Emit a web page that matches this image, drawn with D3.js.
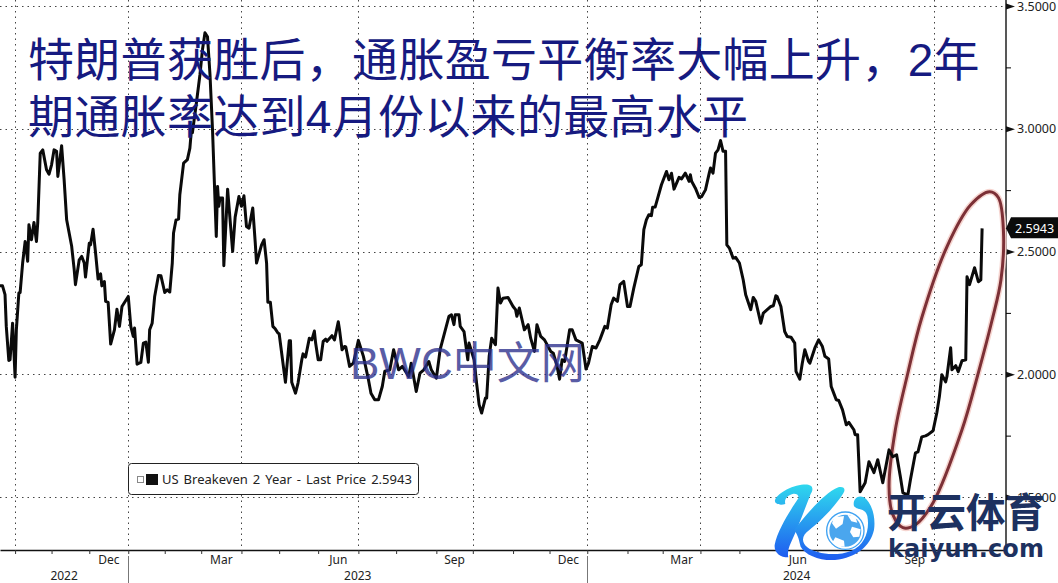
<!DOCTYPE html>
<html>
<head>
<meta charset="utf-8">
<script src="https://cdn.jsdelivr.net/npm/d3@7"></script>
<style>
html, body { margin: 0; padding: 0; background: #fff; overflow: hidden; }
text { font-family: "Noto Sans", sans-serif; fill: #222; }
</style>
</head>
<body>
<svg id="chart" width="1058" height="583"></svg>
<script>
'use strict';

// position along the time axis (axis runs 0..800)
var axisEnd = 800
var sessions = [
    0, 2, 4, 5, 7, 8, 10, 12, 13, 15, 16, 18, 20, 21, 22, 23, 25, 27, 29, 30,
    32, 34, 37, 39, 41, 43, 45, 46, 49, 51, 53, 57, 59, 60, 63, 65, 67, 68, 71, 72,
    74, 76, 78, 80, 81, 83, 84, 86, 88, 91, 93, 95, 97, 102, 104, 106, 107, 109, 112, 114,
    116, 118, 119, 121, 123, 126, 128, 131, 133, 135, 137, 138, 140, 142, 143, 146, 149, 151, 152, 153,
    156, 159, 161, 163, 165, 167, 169, 172, 173, 174, 175, 177, 178, 181, 185, 187, 190, 192, 194, 196,
    198, 201, 203, 204, 208, 210, 212, 213, 215, 217, 219, 221, 222, 227, 230, 231, 232, 235, 237, 240,
    241, 243, 246, 248, 250, 251, 253, 255, 257, 259, 260, 264, 266, 269, 270, 272, 274, 275, 278, 281,
    285, 289, 293, 295, 298, 301, 304, 306, 310, 313, 317, 320, 325, 327, 331, 334, 337, 341, 343, 347,
    350, 357, 359, 361, 362, 365, 366, 369, 372, 373, 377, 379, 381, 383, 386, 387, 389, 391, 394, 396,
    398, 400, 404, 408, 410, 411, 413, 417, 420, 422, 425, 427, 430, 433, 438, 440, 443, 445, 447, 449,
    453, 455, 458, 463, 466, 468, 471, 474, 477, 481, 483, 486, 488, 491, 493, 496, 499, 501, 504, 508,
    510, 512, 514, 516, 518, 519, 521, 526, 530, 532, 534, 536, 540, 542, 545, 548, 549, 550, 553, 556,
    558, 561, 564, 565, 567, 569, 571, 573, 575, 577, 578, 580, 583, 585, 588, 591, 593, 597, 599, 601,
    605, 607, 613, 615, 617, 618, 621, 624, 626, 629, 632, 633, 636, 638, 640, 643, 644, 648, 651, 654,
    656, 659, 661, 663, 665, 667, 670, 673, 675, 679, 680, 682, 684, 688, 691, 695, 698, 702, 707, 710,
    713, 716, 718, 722, 724, 728, 730, 733, 736, 738, 742, 745, 747, 749, 752, 753, 756, 757, 760, 762,
    765, 768, 769, 771, 775, 778, 780, 781
]
var values = [
    2.36, 2.36, 2.324, 2.195, 2.056, 2.059, 2.208, 1.988, 2.181, 2.331, 2.333, 2.453, 2.541, 2.507, 2.46, 2.609, 2.548, 2.618, 2.541, 2.616,
    2.901, 2.914, 2.833, 2.815, 2.853, 2.914, 2.908, 2.806, 2.931, 2.792, 2.629, 2.521, 2.426, 2.365, 2.466, 2.48, 2.453, 2.396, 2.534, 2.527,
    2.591, 2.494, 2.388, 2.409, 2.36, 2.378, 2.297, 2.293, 2.123, 2.181, 2.265, 2.195, 2.276, 2.317, 2.195, 2.154, 2.188, 2.041, 2.048, 2.127,
    2.131, 2.049, 2.181, 2.208, 2.317, 2.402, 2.401, 2.333, 2.344, 2.335, 2.453, 2.575, 2.629, 2.632, 2.731, 2.86, 2.874, 2.921, 2.982, 2.984,
    3.098, 3.22, 3.322, 3.391, 3.375, 3.22, 2.996, 2.561, 2.765, 2.684, 2.718, 2.718, 2.442, 2.754, 2.5, 2.64, 2.724, 2.684, 2.727, 2.602,
    2.595, 2.677, 2.534, 2.453, 2.527, 2.548, 2.453, 2.293, 2.293, 2.195, 2.184, 2.168, 2.165, 1.967, 2.136, 2.136, 1.967, 1.923, 1.964, 2.059,
    2.083, 2.07, 2.147, 2.14, 2.176, 2.127, 2.059, 2.059, 2.134, 2.143, 2.134, 2.157, 2.14, 2.214, 2.181, 2.1, 2.113, 2.111, 2.032, 2.045,
    2.138, 2.073, 1.978, 1.923, 1.896, 1.896, 1.95, 2.012, 2.018, 2.1, 2.018, 2.032, 1.991, 2.045, 1.93, 2.005, 2.018, 2.052, 2.018, 1.984,
    2.1, 2.236, 2.242, 2.202, 2.242, 2.242, 2.195, 2.174, 2.059, 2.127, 2.059, 1.964, 1.876, 1.842, 1.903, 1.903, 2.073, 2.147, 2.12, 2.351,
    2.29, 2.31, 2.313, 2.276, 2.263, 2.236, 2.27, 2.181, 2.202, 2.147, 2.093, 2.202, 2.154, 2.14, 2.093, 2.086, 2.032, 1.98, 2.059, 2.052,
    2.181, 2.181, 2.14, 2.127, 2.021, 2.045, 2.113, 2.107, 2.14, 2.195, 2.188, 2.283, 2.31, 2.297, 2.365, 2.378, 2.276, 2.276, 2.351, 2.439,
    2.446, 2.589, 2.629, 2.65, 2.646, 2.68, 2.681, 2.772, 2.826, 2.792, 2.819, 2.754, 2.802, 2.796, 2.819, 2.786, 2.813, 2.786, 2.758, 2.72,
    2.724, 2.751, 2.819, 2.84, 2.819, 2.901, 2.914, 2.952, 2.908, 2.908, 2.527, 2.514, 2.473, 2.476, 2.453, 2.385, 2.324, 2.263, 2.313, 2.297,
    2.208, 2.249, 2.276, 2.279, 2.32, 2.317, 2.276, 2.174, 2.154, 2.151, 2.127, 2.012, 1.98, 2.045, 2.1, 2.052, 2.045, 2.107, 2.14, 2.113,
    2.073, 2.062, 1.95, 1.923, 1.896, 1.893, 1.855, 1.794, 1.804, 1.774, 1.754, 1.754, 1.521, 1.558, 1.644, 1.599, 1.652, 1.558, 1.692, 1.664,
    1.672, 1.582, 1.517, 1.509, 1.57, 1.68, 1.684, 1.745, 1.749, 1.754, 1.77, 1.843, 1.908, 1.998, 1.969, 1.99, 2.108, 2.018, 2.035, 2.01,
    2.055, 2.059, 2.397, 2.365, 2.434, 2.377, 2.385, 2.5943
]

// hand drawn ring around the last stretch of the line
var ringSessions = [787, 794, 798, 796, 789, 778, 765, 742, 728, 718, 710, 707, 712, 722, 733, 753, 772]
var ringValues = [2.743, 2.719, 2.58, 2.385, 2.222, 2.006, 1.774, 1.477, 1.387, 1.375, 1.428, 1.542, 1.774, 2.006, 2.23, 2.519, 2.69]

var yMajorTicks = [1.5, 2.0, 2.5, 3.0, 3.5]
var yMinorTicks = [1.75, 2.25, 2.75, 3.25]
// month starts from Oct 2022 to Nov 2024, the axis is not calendar even
var monthTicks = [12, 41, 71, 102, 131, 160, 192, 222, 253, 285, 315, 347, 376, 408, 437, 467, 499, 527, 557, 588, 619, 650, 681, 712, 743, 774]
var monthNames = ['Dec', 'Mar', 'Jun', 'Sep', 'Dec', 'Mar', 'Jun', 'Sep']
var yearBreaks = [102, 467]
var yearLabels = ['2022', '2023', '2024']
var lastPrice = 2.5943
var legendText = 'US Breakeven 2 Year - Last Price 2.5943'
var titleLines = ['特朗普获胜后，通胀盈亏平衡率大幅上升，2年', '期通胀率达到4月份以来的最高水平']

var svg = d3.select('#chart')
var axisX = 1006
var axisY = 550

var x = d3.scaleLinear()
    .domain([0, axisEnd])
    .range([0, axisX])
var y = d3.scaleLinear()
    .domain([3.5, 1.5])
    .range([6, 497])

function drawGrid() {
    var grid = svg.append('g')
        .attr('stroke', '#444')
        .attr('stroke-width', 1)
        .attr('stroke-dasharray', '1.5,4')

    grid.selectAll('.h')
        .data(yMajorTicks)
        .enter().append('line')
        .attr('x1', 0)
        .attr('x2', axisX)
        .attr('y1', function(d) { return Math.round(y(d)) + 0.5 })
        .attr('y2', function(d) { return Math.round(y(d)) + 0.5 })

    // every third month
    grid.selectAll('.v')
        .data(monthTicks.filter(function(d, i) { return i % 3 === 0 }))
        .enter().append('line')
        .attr('y1', 0)
        .attr('y2', axisY)
        .attr('x1', function(d) { return Math.round(x(d)) + 0.5 })
        .attr('x2', function(d) { return Math.round(x(d)) + 0.5 })
}

function drawAxes() {
    var bottom = svg.append('g')
        .attr('transform', 'translate(0,' + axisY + ')')
        .call(d3.axisBottom(x)
            .tickValues(monthTicks)
            .tickSize(4)
            .tickSizeOuter(0)
            .tickFormat(''))
    bottom.select('.domain').attr('stroke', '#111').attr('stroke-width', 1.4)
    bottom.selectAll('.tick line').attr('stroke', '#333')

    // the label sits in the middle of its month
    svg.append('g').selectAll('text')
        .data(monthNames)
        .enter().append('text')
        .attr('x', function(d, i) { return x((monthTicks[2 + i * 3] + monthTicks[3 + i * 3]) / 2) })
        .attr('y', 564)
        .attr('text-anchor', 'middle')
        .attr('font-size', 12)
        .text(function(d) { return d })

    svg.append('g').selectAll('line')
        .data(yearBreaks)
        .enter().append('line')
        .attr('x1', function(d) { return Math.round(x(d)) + 0.5 })
        .attr('x2', function(d) { return Math.round(x(d)) + 0.5 })
        .attr('y1', axisY + 6)
        .attr('y2', 583)
        .attr('stroke', '#777')

    var edges = [0].concat(yearBreaks.map(x), [axisX])
    svg.append('g').selectAll('text')
        .data(yearLabels)
        .enter().append('text')
        .attr('x', function(d, i) { return (edges[i] + edges[i + 1]) / 2 })
        .attr('y', 580)
        .attr('text-anchor', 'middle')
        .attr('font-size', 12)
        .text(function(d) { return d })

    svg.append('line')
        .attr('x1', axisX)
        .attr('x2', axisX)
        .attr('y1', 0)
        .attr('y2', axisY)
        .attr('stroke', '#111')
        .attr('stroke-width', 1.4)

    var right = svg.append('g')
        .attr('transform', 'translate(' + axisX + ',0)')
        .call(d3.axisRight(y)
            .tickValues(yMajorTicks)
            .tickSize(0)
            .tickPadding(11)
            .tickFormat(d3.format('.4f')))
    right.select('.domain').remove()
    right.selectAll('.tick text')
        .attr('font-size', 12.5)
        .attr('font-family', '"Noto Sans", sans-serif')
        .attr('fill', '#222')
    right.selectAll('.tick').append('path')
        .attr('d', 'M0,-3L9,0L0,3Z')
        .attr('fill', '#111')

    svg.append('g')
        .attr('transform', 'translate(' + axisX + ',0)')
        .call(d3.axisRight(y).tickValues(yMinorTicks).tickSize(5).tickFormat(''))
        .call(function(g) { g.select('.domain').remove() })
}

function drawSeries() {
    var points = sessions.map(function(d, i) { return { pos: d, value: values[i] } })
    var line = d3.line()
        .x(function(d) { return x(d.pos) })
        .y(function(d) { return y(d.value) })

    svg.append('path')
        .datum(points)
        .attr('fill', 'none')
        .attr('stroke', '#0a0a0a')
        .attr('stroke-width', 3)
        .attr('stroke-linejoin', 'round')
        .attr('d', line)
}

function drawRing() {
    var ring = ringSessions.map(function(d, i) { return [x(d), y(ringValues[i])] })
    var path = d3.line().curve(d3.curveCatmullRomClosed.alpha(0.5))(ring)
    svg.append('path')
        .attr('d', path)
        .attr('fill', 'none')
        .attr('stroke', '#f6d5d0')
        .attr('stroke-width', 6)
    svg.append('path')
        .attr('d', path)
        .attr('fill', 'none')
        .attr('stroke', '#7c3036')
        .attr('stroke-width', 3)
}

function drawPriceTag() {
    var py = y(lastPrice)
    var tag = svg.append('g').attr('transform', 'translate(' + axisX + ',' + py + ')')
    tag.append('path')
        .attr('d', 'M0,0L5,-11H52V10H5Z')
        .attr('fill', '#0b0b0b')
    tag.append('text')
        .attr('x', 9)
        .attr('y', 4.5)
        .attr('font-size', 12.5)
        .style('fill', '#fff')
        .text(d3.format('.4f')(lastPrice))
}

function drawLegend() {
    var g = svg.append('g')
    g.append('rect')
        .attr('x', 128.5)
        .attr('y', 463.5)
        .attr('width', 290)
        .attr('height', 31)
        .attr('rx', 3)
        .attr('fill', '#fff')
        .attr('stroke', '#222')
    g.append('rect')
        .attr('x', 137.5)
        .attr('y', 476.5)
        .attr('width', 6)
        .attr('height', 6)
        .attr('fill', '#fff')
        .attr('stroke', '#888')
    g.append('rect')
        .attr('x', 146)
        .attr('y', 474)
        .attr('width', 12)
        .attr('height', 11)
        .attr('fill', '#111')
    g.append('text')
        .attr('x', 162)
        .attr('y', 484)
        .attr('font-size', 13)
        .attr('word-spacing', 1.6)
        .text(legendText)
}

function drawTitle() {
    svg.append('g').selectAll('text')
        .data(titleLines)
        .enter().append('text')
        .attr('x', 28)
        .attr('y', function(d, i) { return 76 + i * 57 })
        .attr('font-size', 46)
        .attr('letter-spacing', 0.3)
        .style('font-family', '"Liberation Sans", "Noto Sans CJK SC", sans-serif')
        .style('fill', '#161a80')
        .text(function(d) { return d })

    svg.append('text')
        .attr('x', 350)
        .attr('y', 379)
        .attr('font-size', 44)
        .attr('opacity', 0.78)
        .style('font-family', '"Liberation Sans", "Noto Sans CJK SC", sans-serif')
        .style('fill', '#2b2f8c')
        .text('BWC中文网')
}

function drawLogo() {
    var defs = svg.append('defs')
    var grad = defs.append('linearGradient')
        .attr('id', 'logo-blue')
        .attr('x1', 0).attr('y1', 0).attr('x2', 0).attr('y2', 1)
    grad.append('stop').attr('offset', '0%').attr('stop-color', '#2fd8ee')
    grad.append('stop').attr('offset', '100%').attr('stop-color', '#1f5cf0')

    // drawn on a 3x grid, same as the crop of the logo
    var logo = svg.append('g').attr('transform', 'translate(770,480) scale(0.3333)')
    logo.append('path')
        .attr('fill', 'url(#logo-blue)')
        .attr('d', 'M15,60C25,35 80,10 115,14C130,17 130,30 122,42C105,85 85,140 62,190C55,205 52,220 55,232C30,232 12,218 14,195C22,150 65,85 85,55C88,45 78,40 68,42C52,46 42,58 46,72C30,78 12,72 15,60Z')
    logo.append('path')
        .attr('fill', 'url(#logo-blue)')
        .attr('d', 'M72,150C100,115 160,40 205,22C222,18 228,28 220,40C195,80 150,125 118,150C96,165 92,185 112,202C135,220 195,232 245,212C285,195 300,150 292,108C285,82 262,92 252,78C247,60 262,42 282,52C305,68 318,110 312,150C300,200 260,232 195,240C150,243 105,225 92,200C88,185 85,165 72,150Z')

    logo.append('circle')
        .attr('cx', 226).attr('cy', 152).attr('r', 56)
        .attr('fill', '#fff')
        .attr('stroke', '#3fa2f2')
        .attr('stroke-width', 4)
    logo.append('circle')
        .attr('cx', 226).attr('cy', 152).attr('r', 48)
        .attr('fill', '#4aa6ee')
    var patches = [
        'M192,112L222,108L218,132L198,146L186,130Z',
        'M246,140L272,148L268,170L250,172L240,156Z',
        'M196,172L222,182L224,200L202,198L188,186Z',
        'M232,104L256,110L262,128L244,124Z'
    ]
    logo.selectAll('.patch')
        .data(patches)
        .enter().append('path')
        .attr('d', function(d) { return d })
        .attr('fill', '#fff')

    svg.append('text')
        .attr('x', 887)
        .attr('y', 527)
        .attr('font-size', 39.5)
        .attr('font-weight', 700)
        .style('font-family', '"Noto Sans CJK SC", sans-serif')
        .style('fill', '#1d3160')
        .text('开云体育')
    svg.append('text')
        .attr('x', 888)
        .attr('y', 557)
        .attr('font-size', 24)
        .attr('font-weight', 700)
        .attr('letter-spacing', 0.1)
        .style('font-family', '"DejaVu Sans", sans-serif')
        .style('fill', '#1d3160')
        .text('kaiyun.com')
}

drawGrid()
drawAxes()
drawRing()
drawSeries()
drawPriceTag()
drawLegend()
drawTitle()
drawLogo()
</script>
</body>
</html>
